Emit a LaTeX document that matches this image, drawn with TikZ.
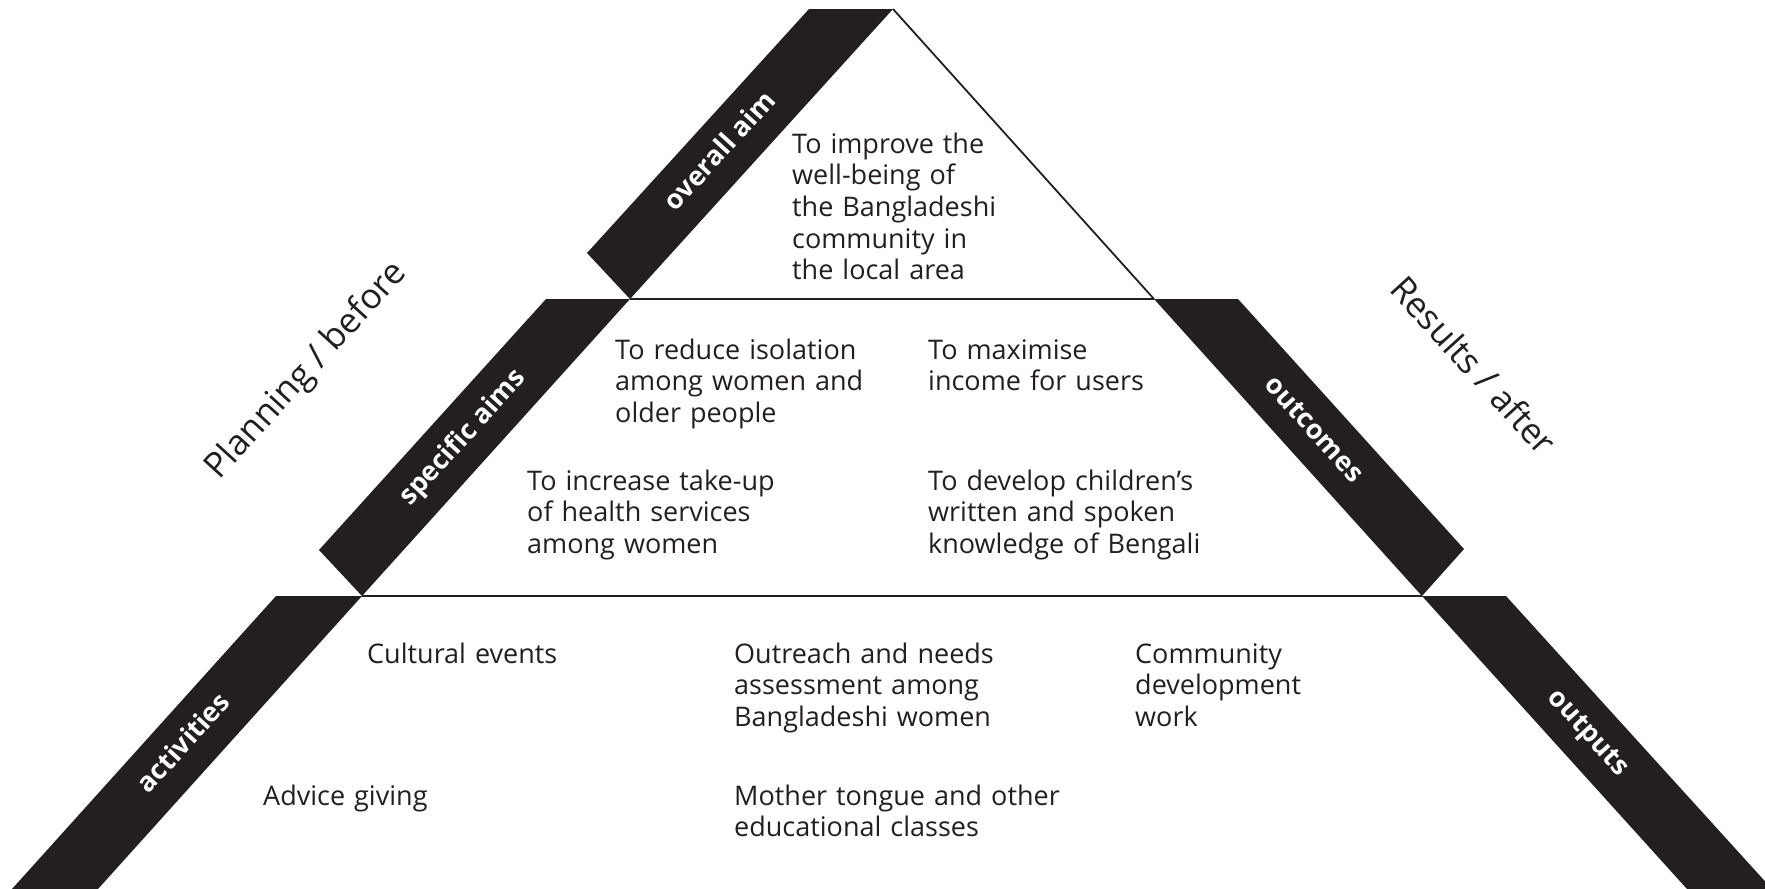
\documentclass[tikz,border=0pt]{standalone}
\usepackage{fontspec}
\setmainfont{Open Sans}
\definecolor{ink}{HTML}{231F20}
\begin{document}
\begin{tikzpicture}[x=1pt,y=-1pt,
  band/.style={fill=ink},
  edge/.style={draw=ink,line width=1.8pt},
  body/.style={anchor=base west,inner sep=0pt,text width=400pt,align=left,text=ink,font=\fontsize{27}{31.7}\selectfont},
  tag/.style={inner sep=0pt,text=white,font=\bfseries\fontsize{27}{32}\selectfont,text height=14.5pt,text depth=0pt,anchor=center},
  side/.style={inner sep=0pt,text=ink,font=\fontsize{35}{40}\selectfont,anchor=center}
]
\clip (0,0) rectangle (1765,889);
% vertices
\coordinate (apex) at (893,9);
\coordinate (tTL) at (809,9);
\coordinate (tBL) at (587,253);
\coordinate (tTip) at (630,299);
\coordinate (tR) at (1154,299);
\coordinate (mlTL) at (546,299);
\coordinate (mlBL) at (319,550);
\coordinate (mlTip) at (362,596);
\coordinate (mrTR) at (1238,299);
\coordinate (mrBR) at (1464,549);
\coordinate (mrTip) at (1422,596);
\coordinate (blTL) at (276,596);
\coordinate (blB1) at (12,889);
\coordinate (blB2) at (98,889);
\coordinate (brTR) at (1506,596);
\coordinate (brB1) at (1687,889);
\coordinate (brB2) at (1772,889);
% bands
\fill[band] (tTL) -- (apex) -- (tTip) -- (tBL) -- cycle;
\fill[band] (mlTL) -- (tTip) -- (mlTip) -- (mlBL) -- cycle;
\fill[band] (tR) -- (mrTR) -- (mrBR) -- (mrTip) -- cycle;
\fill[band] (blTL) -- (mlTip) -- (blB2) -- (blB1) -- cycle;
\fill[band] (mrTip) -- (brTR) -- (brB2) -- (brB1) -- cycle;
% edges
\draw[edge] (apex) -- (tR);
\draw[edge] (tTip) -- (tR);
\draw[edge] (mlTip) -- (mrTip);
% texts
\node[body] (t1) at (792,153) {To improve the\\well-being of\\the Bangladeshi\\community in\\the local area};
\node[body] (s1) at (615,359) {To reduce isolation\\among women and\\older people};
\node[body] (s2) at (928,359) {To maximise\\income for users};
\node[body] (s3) at (527,490) {To increase take-up\\of health services\\among women};
\node[body] (s4) at (928,490) {To develop children’s\\written and spoken\\knowledge of Bengali};
\node[body] (a1) at (367,663) {Cultural events};
\node[body] (a2) at (734,663) {Outreach and needs\\assessment among\\Bangladeshi women};
\node[body] (a3) at (1135,663) {Community\\development\\work};
\node[body] (a4) at (263,805) {Advice giving};
\node[body] (a5) at (734,805) {Mother tongue and other\\educational classes};
% band labels
\node[tag,rotate=47.7] (lOverall) at (721,152) {overall aim};
\node[tag,rotate=47.7] (lSpecific) at (463,438) {specific aims};
\node[tag,rotate=-47.7] (lOutcomes) at (1313,430) {outcomes};
\node[tag,rotate=47.7] (lActivities) at (185,744) {activities};
\node[tag,rotate=-47.7] (lOutputs) at (1588,733) {outputs};
\node[side,rotate=47.7] (planning) at (307,371) {Planning / before};
\node[side,rotate=-47.7] (results) at (1474,365) {Results / after};
\end{tikzpicture}
\end{document}
